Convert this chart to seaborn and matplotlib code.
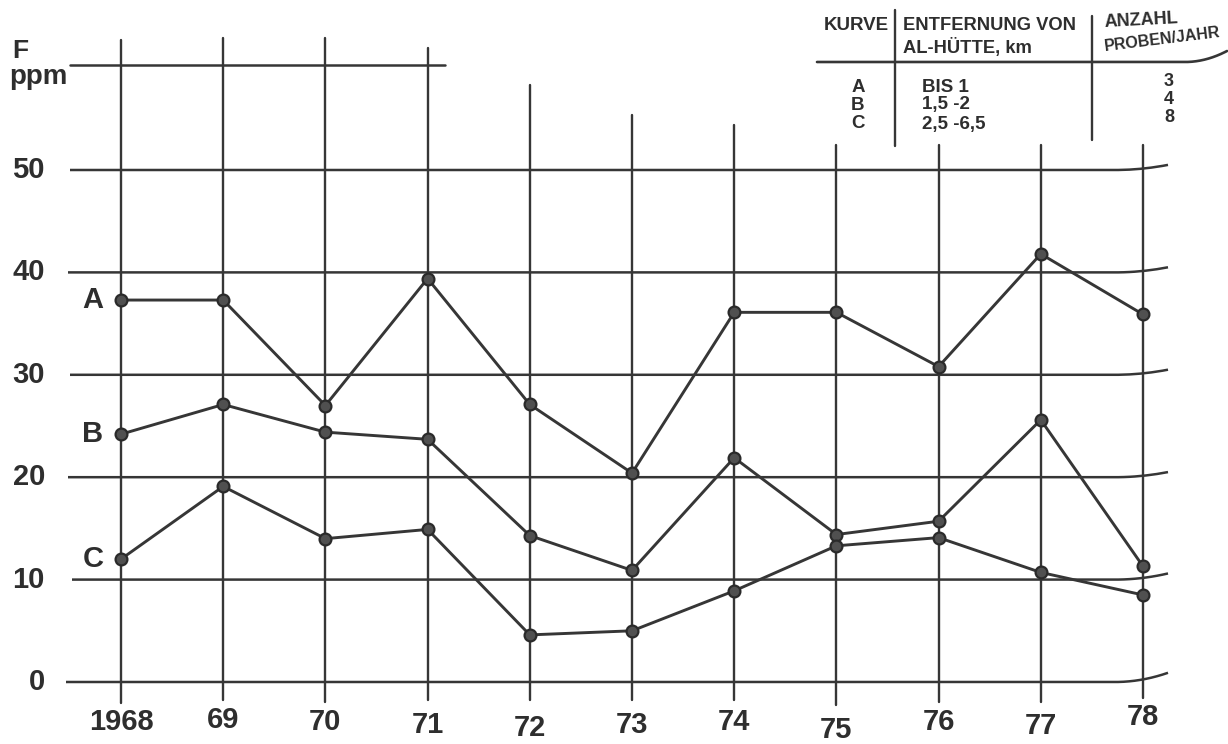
import numpy as np
import pandas as pd
import matplotlib
matplotlib.use("Agg")
import matplotlib.pyplot as plt
import seaborn as sns
from matplotlib import font_manager

# ---------------- data ----------------
years = [1968, 1969, 1970, 1971, 1972, 1973, 1974, 1975, 1976, 1977, 1978]
year_labels = ["1968", "69", "70", "71", "72", "73", "74", "75", "76", "77", "78"]
curve_A = [37.3, 37.3, 27.0, 39.4, 27.1, 20.4, 36.1, 36.1, 30.8, 41.8, 35.9]
curve_B = [24.2, 27.1, 24.4, 23.7, 14.3, 10.9, 21.9, 14.4, 15.7, 25.6, 11.3]
curve_C = [12.0, 19.1, 14.0, 14.9, 4.6, 5.0, 8.9, 13.3, 14.1, 10.7, 8.5]
y_ticks = [0, 10, 20, 30, 40, 50]
curve_names = ["A", "B", "C"]
table_header = ["KURVE", "ENTFERNUNG VON", "AL-HÜTTE, km", "ANZAHL", "PROBEN/JAHR"]
table_dist = ["BIS 1", "1,5 -2", "2,5 -6,5"]
table_n = ["3", "4", "8"]

df = pd.DataFrame({
    "year": years * 3,
    "F": curve_A + curve_B + curve_C,
    "curve": ["A"] * len(years) + ["B"] * len(years) + ["C"] * len(years),
})

# ---------------- style ----------------
sns.set_theme(style="white")
plt.rcParams["font.family"] = ["Liberation Sans", "DejaVu Sans"]
plt.rcParams["font.weight"] = "bold"

avail = {f.name for f in font_manager.fontManager.ttflist}
has_narrow = "Liberation Sans Narrow" in avail
NARROW = ["Liberation Sans Narrow", "Liberation Sans"] if has_narrow else ["Liberation Sans"]
REG = ["Liberation Sans", "DejaVu Sans"]

INK = "#363636"
TXT = "#2e2e2e"
W, H = 1228, 744

fig = plt.figure(figsize=(W / 100, H / 100), dpi=100)
ax = fig.add_axes([0, 0, 1, 1])
ppx = 102.2          # pixels per year
ppv = 10.24          # pixels per ppm
x0px, y0px = 121, 682
ax.set_xlim(1968 - x0px / ppx, 1968 + (W - x0px) / ppx)
ax.set_ylim(-(H - y0px) / ppv, y0px / ppv)
ax.axis("off")

def dx(px):
    return 1968 + (px - x0px) / ppx

def dy(py):
    return (y0px - py) / ppv

# horizontal grid lines with curled right ends
left_starts = [66, 72, 68, 70, 68, 70]
rises = [0.9, 0.6, 0.5, 0.5, 0.5, 0.5]
for lvl, ls, rise in zip(y_ticks, left_starts, rises):
    xs = np.linspace(dx(ls), dx(1168), 200)
    t = np.clip((xs - dx(1115)) / (dx(1168) - dx(1115)), 0, 1)
    ax.plot(xs, lvl + rise * t ** 2, color=INK, lw=1.8, solid_capstyle="butt", zorder=1)
# short top line
ax.plot([dx(70), dx(445)], [dy(65), dy(65)], color=INK, lw=1.8, zorder=1)

# vertical grid lines
tops_px = [40, 38, 38, 48, 85, 115, 125, 145, 145, 145, 145]
bots_px = [703, 700, 702, 700, 700, 700, 700, 705, 702, 702, 698]
for yr, tp, bp in zip(years, tops_px, bots_px):
    ax.plot([yr, yr], [dy(tp), dy(bp)], color=INK, lw=1.7, zorder=1)

# data curves
sns.lineplot(data=df, x="year", y="F", hue="curve", units="curve", estimator=None,
             palette={"A": INK, "B": INK, "C": INK}, lw=2.1, marker="o",
             markersize=8.5, markerfacecolor="#505050", markeredgecolor="#2a2a2a",
             markeredgewidth=1.6, legend=False, ax=ax, zorder=3)

# curve labels
for name, vals in zip(curve_names, [curve_A, curve_B, curve_C]):
    ax.text(dx(93), vals[0], name, ha="center", va="center", fontsize=21,
            fontweight="bold", color=TXT)

# y tick labels
for v in y_ticks:
    ax.text(dx(45), v, str(v), ha="right", va="center", fontsize=21,
            fontweight="bold", color=TXT)

# x tick labels (slightly uneven like the original lettering)
label_py = [722, 720, 722, 725, 728, 725, 722, 730, 722, 726, 717]
for yr, lab, py in zip(years, year_labels, label_py):
    ax.text(yr, dy(py), lab, ha="center", va="center", fontsize=21,
            fontweight="bold", color=TXT)

# axis unit label
fig.text(12 / W, 1 - 51 / H, "F", ha="left", va="center", fontsize=19,
         fontweight="bold", color=TXT)
fig.text(9 / W, 1 - 77 / H, "ppm", ha="left", va="center", fontsize=20,
         fontweight="bold", color=TXT)

# ---------------- table ----------------
def fx(px):
    return px / W

def fy(py):
    return 1 - py / H

# header rule with curl
xs = np.linspace(817, 1227, 200)
t = np.clip((xs - 1185) / (1227 - 1185), 0, 1)
fig.add_artist(plt.Line2D(fx(xs), fy(62 - 11 * t ** 2), color=INK, lw=1.9))
fig.add_artist(plt.Line2D([fx(895), fx(895)], [fy(10), fy(146)], color=INK, lw=1.7))
fig.add_artist(plt.Line2D([fx(1092), fx(1092)], [fy(16), fy(140)], color=INK, lw=1.7))

TS = 13.5
fig.text(fx(824), fy(25), table_header[0], ha="left", va="center", fontsize=TS,
         fontweight="bold", color=TXT, family=REG)
fig.text(fx(903), fy(26), table_header[1], ha="left", va="center", fontsize=TS - 0.3,
         fontweight="bold", color=TXT, family=REG)
fig.text(fx(903), fy(48), table_header[2], ha="left", va="center", fontsize=TS - 0.3,
         fontweight="bold", color=TXT, family=REG)
fig.text(fx(1104), fy(23), table_header[3], ha="left", va="center", fontsize=TS - 0.5,
         fontweight="bold", color=TXT, family=REG, rotation=3, rotation_mode="anchor")
fig.text(fx(1104), fy(47), table_header[4], ha="left", va="center",
         fontsize=15 if has_narrow else 11.5,
         fontweight="bold", color=TXT, family=NARROW, rotation=7, rotation_mode="anchor")

row_py = [87, 105, 124]
num_py = [81, 99, 118]
for name, dist, n, py, npy in zip(curve_names, table_dist, table_n, row_py, num_py):
    fig.text(fx(858), fy(py), name, ha="center", va="center", fontsize=TS,
             fontweight="bold", color=TXT, family=REG)
    fig.text(fx(922), fy(py), dist, ha="left", va="center", fontsize=TS,
             fontweight="bold", color=TXT, family=REG)
    fig.text(fx(1174), fy(npy), n, ha="right", va="center", fontsize=TS - 0.5,
             fontweight="bold", color=TXT, family=REG)

fig.savefig("out.png", dpi=100, facecolor="white")
